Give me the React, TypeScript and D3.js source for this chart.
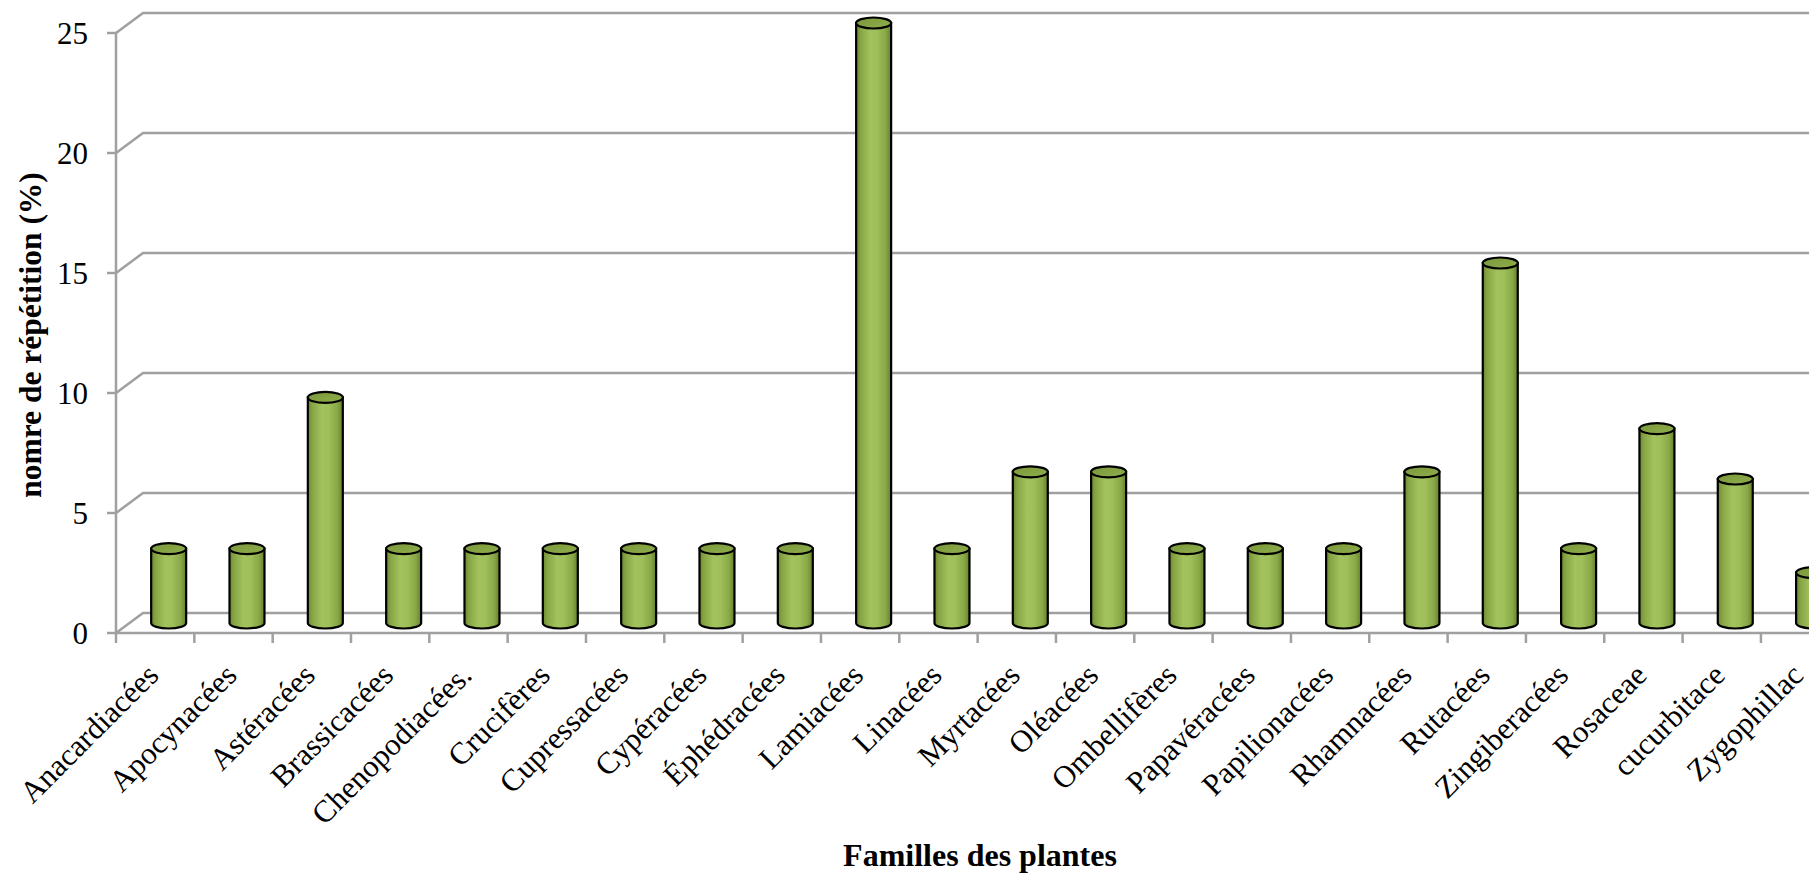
import React from "react";
import * as d3 from "d3";

const categories = [
  "Anacardiacées", "Apocynacées", "Astéracées", "Brassicacées", "Chenopodiacées.",
  "Crucifères", "Cupressacées", "Cypéracées", "Éphédracées", "Lamiacées", "Linacées",
  "Myrtacées", "Oléacées", "Ombellifères", "Papavéracées", "Papilionacées", "Rhamnacées",
  "Rutacées", "Zingiberacées", "Rosaceae", "cucurbitace", "Zygophillac",
];
const values = [3.1, 3.1, 9.4, 3.1, 3.1, 3.1, 3.1, 3.1, 3.1, 25, 3.1, 6.3, 6.3, 3.1, 3.1, 3.1, 6.3, 15.0, 3.1, 8.1, 6.0, 2.1];
const yTicks = [0, 5, 10, 15, 20, 25];
const yTitle = "nomre de répétition (%)";
const xTitle = "Familles des plantes";

const W = 1809, H = 875;
const X0 = 116, STEP = 78.33;
const DX = 27, DY = -20;
const FONT = "'Liberation Serif', 'Times New Roman', serif";
const GRID = "#a0a0a0";

export default function App() {
  const x = d3.scaleBand<string>().domain(categories).range([X0, X0 + STEP * categories.length]).paddingInner(0).paddingOuter(0);
  const y = d3.scaleLinear().domain([0, 25]).range([633, 33]);
  const bw = 35, rx = bw / 2, ry = 5.5;
  const baseY = y(0) + DY / 2;

  return (
    <svg width={W} height={H} style={{ position: "absolute", left: 0, top: 0, background: "#fff" }}>
      <defs>
        <linearGradient id="cyl" x1="0" x2="1" y1="0" y2="0">
          <stop offset="0%" stopColor="#6a8630" />
          <stop offset="12%" stopColor="#86a443" />
          <stop offset="40%" stopColor="#a2c25e" />
          <stop offset="60%" stopColor="#9fbf5a" />
          <stop offset="85%" stopColor="#88a746" />
          <stop offset="100%" stopColor="#647f2c" />
        </linearGradient>
        <linearGradient id="cyltop" x1="0" x2="1" y1="0" y2="1">
          <stop offset="0%" stopColor="#7a973a" />
          <stop offset="100%" stopColor="#90af4c" />
        </linearGradient>
      </defs>
      {/* gridlines / walls */}
      {yTicks.map((t) => {
        const yy = y(t);
        return (
          <g key={t}>
            <line x1={X0 - 9} x2={X0} y1={yy} y2={yy} stroke={GRID} strokeWidth={2.5} />
            <path d={`M${X0},${yy} L${X0 + DX},${yy + DY} L${W + 10},${yy + DY}`} fill="none" stroke={GRID} strokeWidth={2.5} />
            <text x={88} y={yy} textAnchor="end" dominantBaseline="central" fontFamily={FONT} fontSize={31} fill="#000">{t}</text>
          </g>
        );
      })}
      <line x1={X0} x2={X0} y1={y(25)} y2={y(0)} stroke={GRID} strokeWidth={2.5} />
      <line x1={X0} x2={W + 10} y1={y(0)} y2={y(0)} stroke={GRID} strokeWidth={2.5} />
      {d3.range(categories.length + 1).map((i) => (
        <line key={i} x1={X0 + i * STEP} x2={X0 + i * STEP} y1={y(0)} y2={y(0) + 10} stroke={GRID} strokeWidth={2.5} />
      ))}
      {/* bars */}
      {categories.map((c, i) => {
        const cx = (x(c) as number) + x.bandwidth() / 2 + DX / 2;
        const ty = y(values[i]) + DY / 2;
        const body = `M${cx - rx},${ty} L${cx - rx},${baseY} A${rx},${ry} 0 0 0 ${cx + rx},${baseY} L${cx + rx},${ty} Z`;
        return (
          <g key={c}>
            <path d={body} fill="url(#cyl)" stroke="#000" strokeWidth={2.2} />
            <ellipse cx={cx} cy={ty} rx={rx} ry={ry} fill="url(#cyltop)" stroke="#000" strokeWidth={2.2} />
          </g>
        );
      })}
      {/* x labels */}
      {categories.map((c) => {
        const cx = (x(c) as number) + x.bandwidth() / 2;
        const ax = cx + 5, ay = 677;
        return (
          <text key={c} x={ax} y={ay} transform={`rotate(-45 ${ax} ${ay})`} textAnchor="end" fontFamily={FONT} fontSize={31} fill="#000">{c}</text>
        );
      })}
      <text x={980} y={866} textAnchor="middle" fontFamily={FONT} fontWeight="bold" fontSize={32} fill="#000">{xTitle}</text>
      <text x={41} y={335} transform="rotate(-90 41 335)" textAnchor="middle" fontFamily={FONT} fontWeight="bold" fontSize={31.5} fill="#000">{yTitle}</text>
    </svg>
  );
}
